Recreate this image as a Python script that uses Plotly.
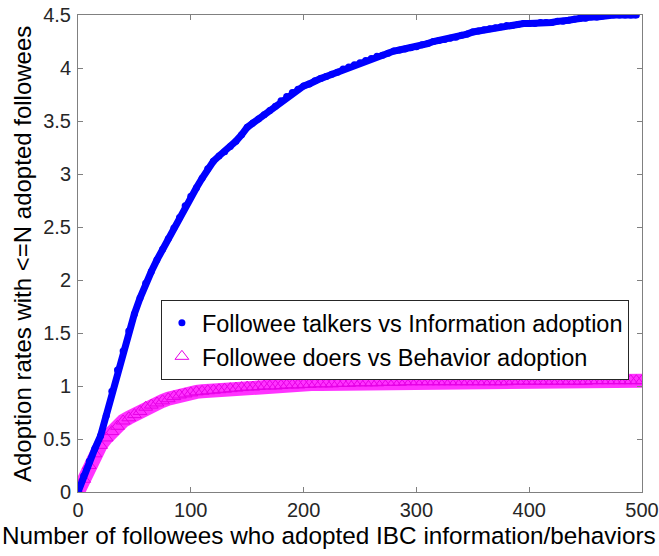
import plotly.graph_objects as go

# x positions (number of followees), sampled every 5
x_talk = list(range(0, 500, 5))
x_doer = list(range(0, 505, 5))

# Followee talkers vs Information adoption (blue dots)
y_talk = [
    0.00, 0.15, 0.29, 0.41, 0.53, 0.72, 0.95, 1.15, 1.33, 1.52,
    1.68, 1.83, 1.97, 2.08, 2.19, 2.29, 2.39, 2.49, 2.59, 2.70,
    2.79, 2.87, 2.96, 3.05, 3.12, 3.17, 3.21, 3.26, 3.31, 3.37,
    3.44, 3.48, 3.52, 3.56, 3.60, 3.64, 3.69, 3.73, 3.77, 3.80,
    3.83, 3.85, 3.88, 3.90, 3.92, 3.94, 3.96, 3.99, 4.01, 4.03,
    4.05, 4.07, 4.09, 4.11, 4.12, 4.14, 4.16, 4.17, 4.18, 4.19,
    4.20, 4.22, 4.23, 4.25, 4.26, 4.27, 4.28, 4.29, 4.31, 4.32,
    4.34, 4.35, 4.36, 4.37, 4.38, 4.39, 4.40, 4.40, 4.41, 4.42,
    4.42, 4.42, 4.43, 4.43, 4.43, 4.44, 4.44, 4.45, 4.46, 4.47,
    4.47, 4.48, 4.48, 4.49, 4.50, 4.50, 4.50, 4.50, 4.50, 4.50,
]

# Followee doers vs Behavior adoption (magenta triangles)
y_doer = [
    0.00, 0.12, 0.25, 0.36, 0.44, 0.51, 0.57, 0.62, 0.67, 0.70,
    0.73, 0.76, 0.80, 0.82, 0.84, 0.86, 0.88, 0.90, 0.915, 0.925,
    0.935, 0.945, 0.95, 0.955, 0.96, 0.965, 0.97, 0.975, 0.98, 0.985,
    0.99, 0.99, 0.995, 1.00, 1.00, 1.00, 1.005, 1.01, 1.01, 1.01,
    1.015, 1.015, 1.02, 1.02, 1.02, 1.02, 1.025, 1.025, 1.025, 1.03,
    1.03, 1.03, 1.03, 1.03, 1.035, 1.035, 1.035, 1.035, 1.04, 1.04,
    1.04, 1.04, 1.04, 1.04, 1.04, 1.04, 1.04, 1.04, 1.04, 1.04,
    1.04, 1.04, 1.04, 1.04, 1.04, 1.04, 1.04, 1.045, 1.045, 1.045,
    1.045, 1.045, 1.045, 1.045, 1.045, 1.045, 1.045, 1.045, 1.045, 1.045,
    1.045, 1.05, 1.05, 1.05, 1.05, 1.05, 1.05, 1.05, 1.05, 1.05,
    1.05,
]

x_ticks = [0, 100, 200, 300, 400, 500]
y_ticks = [0, 0.5, 1, 1.5, 2, 2.5, 3, 3.5, 4, 4.5]
x_title = 'Number of followees who adopted IBC information/behaviors'
y_title = 'Adoption rates with &lt;=N adopted followees'

FONT = 'Arial, Liberation Sans, sans-serif'
AX_COLOR = '#808080'
TXT = '#262626'

fig = go.Figure()

# magenta band
fig.add_trace(go.Scatter(
    x=x_doer, y=y_doer, mode='lines', showlegend=False,
    line=dict(color='rgba(255,0,255,0.8)', width=14), hoverinfo='skip',
))
fig.add_trace(go.Scatter(
    x=x_doer, y=y_doer, mode='markers',
    name='Followee doers vs Behavior adoption',
    marker=dict(symbol='triangle-up-open', size=12, color='#e600e6',
                line=dict(width=1)),
))

# blue dots
fig.add_trace(go.Scatter(
    x=x_talk, y=y_talk, mode='lines', showlegend=False,
    line=dict(color='#0000ff', width=7), hoverinfo='skip',
))
fig.add_trace(go.Scatter(
    x=x_talk, y=y_talk, mode='markers',
    name='Followee talkers vs Information adoption',
    marker=dict(symbol='circle', size=7, color='#0000ff'),
))

axis_common = dict(
    showline=True, linecolor=AX_COLOR, linewidth=1, mirror='ticks',
    ticks='inside', ticklen=5, tickcolor=AX_COLOR, showgrid=False,
    zeroline=False, automargin=False,
    tickfont=dict(size=20, color=TXT, family=FONT),
)

fig.update_layout(
    width=659, height=556,
    margin=dict(l=78, r=17, t=15, b=64),
    paper_bgcolor='white', plot_bgcolor='white',
    font=dict(family=FONT, color=TXT),
    xaxis=dict(range=[0, 500], tickvals=x_ticks, ticklabelstandoff=0,
               **axis_common),
    yaxis=dict(range=[0, 4.5], tickvals=y_ticks, ticklabelstandoff=2,
               **axis_common),
    legend=dict(x=0.147, y=0.4025, xanchor='left', yanchor='top',
                traceorder='reversed',
                bgcolor='white', bordercolor='#262626', borderwidth=1,
                font=dict(size=23.5, color='black', family=FONT)),
    annotations=[
        dict(text=x_title, xref='paper', yref='paper', x=0.445, y=-0.091,
             xanchor='center', yanchor='middle', showarrow=False,
             font=dict(size=24.3, color='black', family=FONT)),
        dict(text=y_title, xref='paper', yref='paper', x=-0.0975, y=0.499,
             xanchor='center', yanchor='middle', showarrow=False, textangle=-90,
             font=dict(size=24, color='black', family=FONT)),
    ],
)

fig.write_html('out.html', config={'displayModeBar': False},
               post_script="document.body.style.margin='0';")
